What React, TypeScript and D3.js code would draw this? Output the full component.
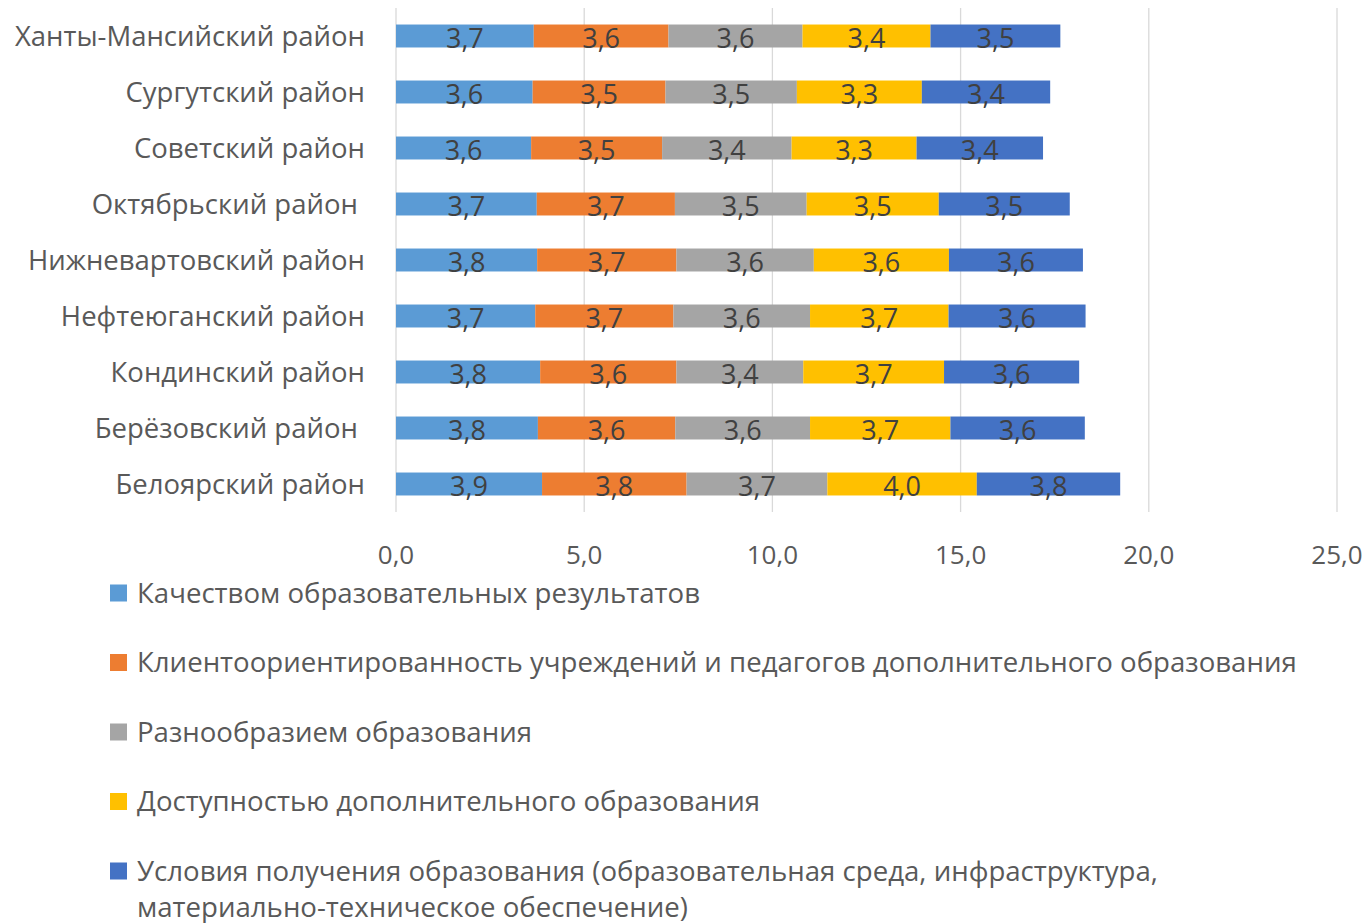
import * as d3 from "d3";
import { useRef, useEffect } from "react";

const districts = [
  "Ханты-Мансийский район",
  "Сургутский район",
  "Советский район",
  "Октябрьский район ",
  "Нижневартовский район",
  "Нефтеюганский район",
  "Кондинский район",
  "Берёзовский район ",
  "Белоярский район",
];

const seriesNames = [
  "Качеством образовательных результатов",
  "Клиентоориентированность учреждений и педагогов дополнительного образования",
  "Разнообразием образования",
  "Доступностью дополнительного образования",
  "Условия получения образования (образовательная среда, инфраструктура,|материально-техническое обеспечение)",
];

const seriesColors = ["#5b9bd5", "#ed7d31", "#a5a5a5", "#ffc000", "#4472c4"];

// values per series, in the order of districts
const quality = [3.66, 3.63, 3.59, 3.74, 3.75, 3.7, 3.83, 3.77, 3.88];
const clientFocus = [3.58, 3.53, 3.48, 3.67, 3.7, 3.67, 3.62, 3.65, 3.84];
const variety = [3.56, 3.49, 3.44, 3.5, 3.65, 3.63, 3.37, 3.58, 3.74];
const access = [3.4, 3.32, 3.32, 3.51, 3.59, 3.68, 3.74, 3.73, 3.97];
const conditions = [3.45, 3.41, 3.36, 3.48, 3.56, 3.64, 3.59, 3.57, 3.81];

const xTicks = [0, 5, 10, 15, 20, 25];

const App = () => {
  const svgRef = useRef(null);
  const width = 1369;
  const height = 923;

  useEffect(() => {
    const svgEl = d3.select(svgRef.current);
    svgEl.selectAll("*").remove();

    const font = "'Open Sans', 'Noto Sans', sans-serif";
    const allSeries = [quality, clientFocus, variety, access, conditions];
    const rows = districts.map((name, i) => {
      const r = { name };
      allSeries.forEach((s, k) => (r["s" + k] = s[i]));
      return r;
    });
    const keys = allSeries.map((_, k) => "s" + k);
    const stacked = d3.stack().keys(keys)(rows);

    const xScale = d3.scaleLinear().domain([0, 25]).range([396, 1337]);
    const yScale = d3
      .scaleBand()
      .domain(districts)
      .range([8, 512])
      .paddingInner(0.59)
      .paddingOuter(0.295);

    // grid lines
    svgEl
      .append("g")
      .selectAll("line")
      .data(xTicks)
      .enter()
      .append("line")
      .attr("x1", (d) => xScale(d))
      .attr("x2", (d) => xScale(d))
      .attr("y1", 8)
      .attr("y2", 512)
      .attr("stroke", "#d9d9d9")
      .attr("stroke-width", 1.3);

    // bars
    const layers = svgEl
      .append("g")
      .selectAll("g")
      .data(stacked)
      .enter()
      .append("g")
      .attr("fill", (d, i) => seriesColors[i]);

    layers
      .selectAll("rect")
      .data((d) => d)
      .enter()
      .append("rect")
      .attr("x", (d) => xScale(d[0]))
      .attr("width", (d) => xScale(d[1]) - xScale(d[0]))
      .attr("y", (d) => yScale(d.data.name))
      .attr("height", yScale.bandwidth());

    // data labels
    layers
      .selectAll("text")
      .data((d) => d)
      .enter()
      .append("text")
      .attr("x", (d) => (xScale(d[0]) + xScale(d[1])) / 2)
      .attr("y", (d) => yScale(d.data.name) + yScale.bandwidth() / 2 + 2)
      .attr("dy", "0.36em")
      .attr("text-anchor", "middle")
      .attr("fill", "#404040")
      .attr("font-family", font)
      .attr("font-size", 27)
      .text((d) => d3.format(".1f")(d[1] - d[0]).replace(".", ","));

    // category labels
    svgEl
      .append("g")
      .selectAll("text")
      .data(districts)
      .enter()
      .append("text")
      .attr("x", 365)
      .attr("y", (d) => yScale(d) + yScale.bandwidth() / 2)
      .attr("dy", "0.36em")
      .attr("text-anchor", "end")
      .attr("fill", "#595959")
      .attr("font-family", font)
      .attr("font-size", 27.5)
      .style("white-space", "pre")
      .text((d) => d);

    // x tick labels
    svgEl
      .append("g")
      .selectAll("text")
      .data(xTicks)
      .enter()
      .append("text")
      .attr("x", (d) => xScale(d))
      .attr("y", 555)
      .attr("dy", "0.36em")
      .attr("text-anchor", "middle")
      .attr("fill", "#595959")
      .attr("font-family", font)
      .attr("font-size", 26)
      .text((d) => d3.format(".1f")(d).replace(".", ","));

    // legend
    const legend = svgEl
      .append("g")
      .selectAll("g")
      .data(seriesNames)
      .enter()
      .append("g")
      .attr("transform", (d, i) => `translate(110, ${593 + i * 69.5})`);

    legend
      .append("rect")
      .attr("x", 0)
      .attr("y", -8.5)
      .attr("width", 17)
      .attr("height", 17)
      .attr("fill", (d, i) => seriesColors[i]);

    const legendText = legend
      .append("text")
      .attr("fill", "#595959")
      .attr("font-family", font)
      .attr("font-size", 27.6);

    legendText
      .selectAll("tspan")
      .data((d) => d.split("|"))
      .enter()
      .append("tspan")
      .attr("x", 27)
      .attr("y", (d, j) => j * 36)
      .attr("dy", "0.36em")
      .text((d) => d);
  }, []);

  return (
    <div style={{ position: "absolute", left: 0, top: 0, background: "#fff" }}>
      <svg ref={svgRef} width={width} height={height} />
    </div>
  );
};

export default App;
